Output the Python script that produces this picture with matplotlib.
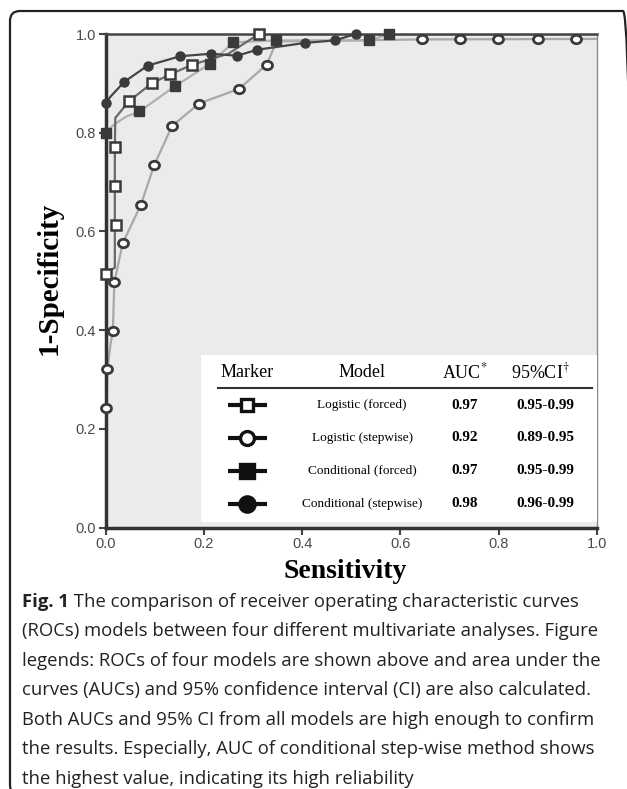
import matplotlib.pyplot as plt
from matplotlib.patches import FancyBboxPatch, Rectangle
from matplotlib.path import Path
from matplotlib.transforms import IdentityTransform, Affine2D

plt.rcParams['mathtext.fontset'] = 'stix'

# ROC curves: x = Sensitivity, y = 1-Specificity
# line vertices and marker positions for each model
lf_line_x = [0.0, 0.0, 0.019, 0.019, 0.02, 0.048, 0.094, 0.131, 0.177, 0.25, 0.312, 1.0]
lf_line_y = [0.0, 0.513, 0.527, 0.771, 0.83, 0.864, 0.900, 0.918, 0.938, 0.96, 1.0, 1.0]
lf_mark_x = [0.0, 0.021, 0.019, 0.019, 0.048, 0.094, 0.131, 0.177, 0.312]
lf_mark_y = [0.513, 0.613, 0.691, 0.771, 0.864, 0.900, 0.918, 0.938, 1.0]

ls_line_x = [0.0, 0.001, 0.004, 0.01, 0.015, 0.018, 0.035, 0.072, 0.099, 0.135, 0.19, 0.272, 0.328, 0.348, 0.643, 1.0]
ls_line_y = [0.0, 0.243, 0.321, 0.37, 0.399, 0.497, 0.576, 0.654, 0.734, 0.813, 0.859, 0.889, 0.938, 0.985, 0.989, 0.99]
ls_mark_x = [0.001, 0.004, 0.015, 0.018, 0.035, 0.072, 0.099, 0.135, 0.19, 0.272, 0.328, 0.643, 0.721, 0.798, 0.879, 0.957]
ls_mark_y = [0.243, 0.321, 0.399, 0.497, 0.576, 0.654, 0.734, 0.813, 0.859, 0.889, 0.938, 0.989, 0.989, 0.989, 0.989, 0.990]

cf_line_x = [0.0, 0.0, 0.019, 0.043, 0.069, 0.141, 0.213, 0.26, 0.347, 0.537, 0.577, 1.0]
cf_line_y = [0.0, 0.80, 0.818, 0.833, 0.843, 0.894, 0.940, 0.983, 0.987, 0.987, 1.0, 1.0]
cf_mark_x = [0.0, 0.069, 0.141, 0.213, 0.26, 0.347, 0.537, 0.577]
cf_mark_y = [0.80, 0.843, 0.894, 0.940, 0.983, 0.987, 0.987, 1.0]

cs_line_x = [0.0, 0.0, 0.012, 0.038, 0.086, 0.152, 0.214, 0.268, 0.308, 0.406, 0.466, 0.51, 1.0]
cs_line_y = [0.0, 0.861, 0.875, 0.903, 0.936, 0.955, 0.960, 0.956, 0.968, 0.982, 0.987, 1.0, 1.0]
cs_mark_x = [0.0, 0.038, 0.086, 0.152, 0.214, 0.268, 0.308, 0.406, 0.466, 0.51]
cs_mark_y = [0.861, 0.903, 0.936, 0.955, 0.960, 0.956, 0.968, 0.982, 0.987, 1.0]

models = ['Logistic (forced)', 'Logistic (stepwise)', 'Conditional (forced)', 'Conditional (stepwise)']
auc = [0.97, 0.92, 0.97, 0.98]
ci = ['0.95-0.99', '0.89-0.95', '0.95-0.99', '0.96-0.99']

caption = [
    'The comparison of receiver operating characteristic curves',
    '(ROCs) models between four different multivariate analyses. Figure',
    'legends: ROCs of four models are shown above and area under the',
    'curves (AUCs) and 95% confidence interval (CI) are also calculated.',
    'Both AUCs and 95% CI from all models are high enough to confirm',
    'the results. Especially, AUC of conditional step-wise method shows',
    'the highest value, indicating its high reliability',
]

W, H = 627, 789
fig = plt.figure(figsize=(W / 100, H / 100), dpi=100)

def fx(px):
    return px / W

def fy(py):
    return 1 - py / H

ax = fig.add_axes([fx(105.5), fy(527.5), (597 - 105.5) / W, (527.5 - 34) / H])
ax.set_facecolor('#ebebeb')
ax.set_xlim(0, 1)
ax.set_ylim(0, 1)

# slightly flattened ring used by the stepwise logistic model
oval = Path.unit_circle().transformed(Affine2D().scale(1.0, 0.84))

mk = '#3a3a3a'
ax.plot(ls_line_x, ls_line_y, color='#a8a8a8', lw=1.6, zorder=2)
ax.plot(cf_line_x, cf_line_y, color='#b0b0b0', lw=1.6, zorder=2)
ax.plot(lf_line_x, lf_line_y, color='#6a6a6a', lw=1.6, zorder=3)
ax.plot(cs_line_x, cs_line_y, color='#454545', lw=1.6, zorder=3)

ax.plot(ls_mark_x, ls_mark_y, ls='none', marker=oval, ms=7.2, mfc='white', mec=mk, mew=2.0, zorder=5, clip_on=False)
ax.plot(cf_mark_x, cf_mark_y, ls='none', marker='s', ms=7.5, mfc=mk, mec=mk, mew=1, zorder=5, clip_on=False)
ax.plot(cs_mark_x, cs_mark_y, ls='none', marker='o', ms=6.5, mfc=mk, mec=mk, mew=1, zorder=6, clip_on=False)
ax.plot(lf_mark_x, lf_mark_y, ls='none', marker='s', ms=7.5, mfc='white', mec=mk, mew=1.8, zorder=6, clip_on=False)

ax.set_xticks([0, 0.2, 0.4, 0.6, 0.8, 1.0])
ax.set_yticks([0, 0.2, 0.4, 0.6, 0.8, 1.0])
ax.set_xticklabels(['0.0', '0.2', '0.4', '0.6', '0.8', '1.0'])
ax.set_yticklabels(['0.0', '0.2', '0.4', '0.6', '0.8', '1.0'])
ax.tick_params(direction='out', length=5, width=1.5, color='#444', labelsize=10.5,
               labelcolor='#4a4a4a', pad=2)
for lab in ax.get_xticklabels() + ax.get_yticklabels():
    lab.set_fontfamily('Liberation Sans')

for side, lw, col in [('left', 2.5, '#333'), ('bottom', 2.5, '#333'),
                      ('top', 1.8, '#444'), ('right', 1.0, '#888')]:
    ax.spines[side].set_linewidth(lw)
    ax.spines[side].set_color(col)
    ax.spines[side].set_zorder(4)

# legend table
ax.add_patch(Rectangle((0.194, 0.012), 1.0 - 0.194, 0.35 - 0.012, transform=ax.transAxes,
                       facecolor='white', edgecolor='none', zorder=7))
serif = 'Liberation Serif'
hy = 0.315
ax.text(0.288, hy, 'Marker', transform=ax.transAxes, ha='center', va='center',
        family=serif, size=13, zorder=8)
ax.text(0.522, hy, 'Model', transform=ax.transAxes, ha='center', va='center',
        family=serif, size=13, zorder=8)
ax.text(0.731, hy, r'AUC$^{*}$', transform=ax.transAxes, ha='center', va='center',
        family=serif, size=13, zorder=8)
ax.text(0.884, hy, r'95%CI$^{\dagger}$', transform=ax.transAxes, ha='center', va='center',
        family=serif, size=13, zorder=8)
ax.plot([0.229, 0.99], [0.283, 0.283], transform=ax.transAxes, color='#333', lw=1.5, zorder=8)

row_y = [0.248, 0.182, 0.115, 0.048]
styles = [('s', 'white', 9), ('o', 'white', 10), ('s', '#111', 10), ('o', '#111', 11)]
for i in range(4):
    y = row_y[i]
    m, face, ms = styles[i]
    ax.plot([0.249, 0.329], [y, y], transform=ax.transAxes, color='#111', lw=3,
            solid_capstyle='butt', zorder=8)
    ax.plot([0.288], [y], transform=ax.transAxes, marker=m, ms=ms, mfc=face, mec='#111',
            mew=2.4, zorder=9)
    ax.text(0.522, y, models[i], transform=ax.transAxes, ha='center', va='center',
            family=serif, size=9.5, zorder=8)
    ax.text(0.731, y, f'{auc[i]:.2f}', transform=ax.transAxes, ha='center', va='center',
            family=serif, size=11, weight='bold', zorder=8)
    ax.text(0.894, y, ci[i], transform=ax.transAxes, ha='center', va='center',
            family=serif, size=11, weight='bold', zorder=8)

# axis titles
fig.text(fx(49), fy(278), '1-Specificity', rotation=90, ha='center', va='center',
         family=serif, weight='bold', size=21)
fig.text(fx(345), fy(572), 'Sensitivity', ha='center', va='center',
         family=serif, weight='bold', size=20)

# caption
cap_font = 'Open Sans'
cap_size = 13.3
t0 = fig.text(fx(22), fy(602), 'Fig. 1', ha='left', va='center', family=cap_font,
              weight='bold', size=cap_size, color='#222')
ax.annotate(' ' + caption[0], xy=(1, 0), xycoords=t0, ha='left', va='bottom',
            family=cap_font, size=cap_size, color='#222', annotation_clip=False)
for i in range(1, len(caption)):
    fig.text(fx(22), fy(602 + 29.5 * i), caption[i], ha='left', va='center',
             family=cap_font, size=cap_size, color='#222')

# rounded frame around the figure
frame = FancyBboxPatch((10, -6), 623, 784, boxstyle='round,pad=0,rounding_size=10',
                       transform=IdentityTransform(), fill=False, ec='#222', lw=1.6)
fig.add_artist(frame)

fig.savefig('out.png', dpi=100)
